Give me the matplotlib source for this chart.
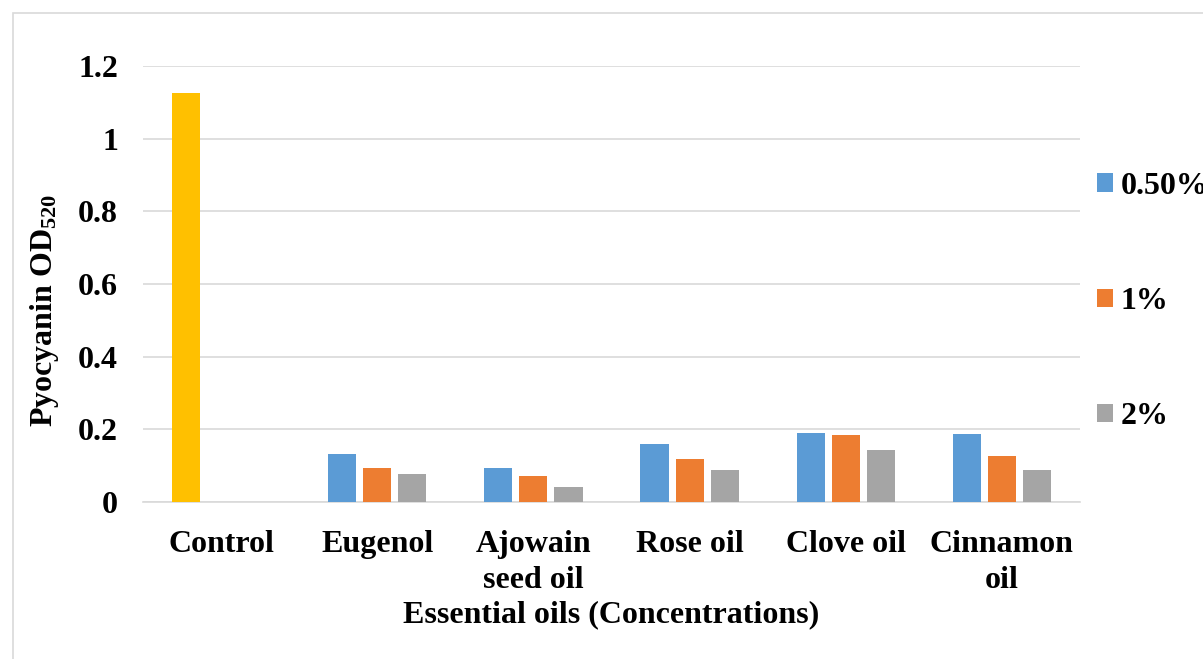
import numpy as np
import matplotlib.pyplot as plt

oils = ["Control", "Eugenol", "Ajowain\nseed oil", "Rose oil", "Clove oil", "Cinnamon\noil"]
control_od = 1.125
conc_labels = ["0.50%", "1%", "2%"]
od_050 = [0.132, 0.094, 0.160, 0.191, 0.187]
od_1 = [0.094, 0.072, 0.118, 0.184, 0.126]
od_2 = [0.076, 0.042, 0.089, 0.143, 0.087]

colors = ["#5B9BD5", "#ED7D31", "#A5A5A5"]

plt.rcParams['font.family'] = ['Liberation Serif', 'DejaVu Serif']
plt.rcParams['font.weight'] = 'bold'
plt.rcParams['mathtext.fontset'] = 'custom'
plt.rcParams['mathtext.rm'] = 'Liberation Serif:bold'
plt.rcParams['mathtext.bf'] = 'Liberation Serif:bold'
plt.rcParams['mathtext.it'] = 'Liberation Serif:bold:italic'

fs = 23

fig = plt.figure(figsize=(12.03, 6.59), dpi=100)
ax = fig.add_axes([143/1203, 1 - 502/659, (1080 - 143)/1203, (502 - 66)/659])

x = np.arange(len(oils))
w = 0.18
step = 0.225

# control gets its own gold bar in the first slot
ax.bar(x[0] - step, control_od, w, color="#FFC000", zorder=3)
for i, (vals, c, lab) in enumerate(zip([od_050, od_1, od_2], colors, conc_labels)):
    ax.bar(x[1:] + (i - 1) * step, vals, w, color=c, label=lab, zorder=3)

ax.set_xlim(-0.5, len(oils) - 0.5)
ax.set_ylim(0, 1.2)
ax.set_yticks(np.arange(0, 1.21, 0.2))
ax.set_yticklabels(["0", "0.2", "0.4", "0.6", "0.8", "1", "1.2"])
ax.yaxis.grid(True, color="#D9D9D9", linewidth=1.2, zorder=0)
ax.set_xticks(x)
ax.set_xticklabels(oils, linespacing=1.32)
ax.tick_params(axis='both', length=0, labelsize=fs, colors='black')
ax.tick_params(axis='y', pad=18)
ax.tick_params(axis='x', pad=20)
for s in ["top", "right", "left"]:
    ax.spines[s].set_visible(False)
ax.spines["bottom"].set_color("#D9D9D9")
ax.spines["bottom"].set_linewidth(1.2)

ax.set_xlabel("Essential oils (Concentrations)", fontsize=fs, fontweight='bold', labelpad=4)
ax.set_ylabel("Pyocyanin OD$_{520}$", fontsize=fs, fontweight='bold')
ax.yaxis.set_label_coords(-0.087, 0.44)

fig.legend(loc="upper left", bbox_to_anchor=(1084/1203, 1 - 159/659), frameon=False,
           fontsize=fs, handlelength=0.5, handleheight=0.5, handletextpad=0.25,
           labelspacing=2.7, borderaxespad=0)

# outer chart border
fig.patches.append(plt.Rectangle((13/1203, -0.05), 1.2, 1 - 13/659 + 0.05, transform=fig.transFigure,
                                 fill=False, edgecolor="#D9D9D9", linewidth=1.2))

fig.savefig("out.png", dpi=100)
